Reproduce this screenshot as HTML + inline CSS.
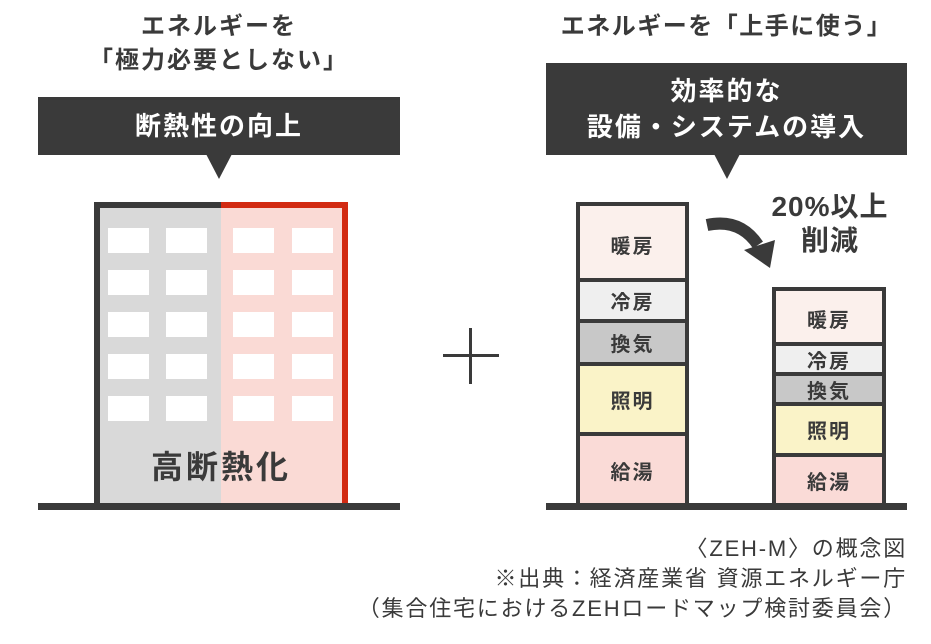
<!DOCTYPE html>
<html><head><meta charset="utf-8"><style>
body{margin:0;width:931px;height:644px;background:#fff;overflow:hidden;position:relative;font-family:"Liberation Sans","Noto Sans CJK JP",sans-serif;color:#3a3a3a}
.a{position:absolute}
.t{font-weight:bold;text-align:center}
.seg{position:absolute;left:0;right:0;display:flex;align-items:center;justify-content:center;font-weight:bold;font-size:20px;letter-spacing:2px;border-top:4px solid #3a3a3a;box-sizing:border-box}
.w{position:absolute;width:41px;height:25px;background:#fff}
</style></head><body>
<div class="a t" style="left:38px;width:362px;top:10px;font-size:24px;letter-spacing:2px;line-height:34px">エネルギーを<br>「極力必要としない」</div>
<div class="a t" style="left:546px;width:361px;top:10px;font-size:24px;letter-spacing:1.5px;line-height:34px">エネルギーを「上手に使う」</div>
<div class="a t" style="left:38px;top:97px;width:362px;height:58px;background:#3a3a3a;color:#fff;font-size:26px;letter-spacing:2px;line-height:58px">断熱性の向上</div>
<div class="a" style="left:206px;top:154px;width:0;height:0;border-left:13px solid transparent;border-right:13px solid transparent;border-top:25px solid #3a3a3a"></div>
<div class="a t" style="left:546px;top:63px;width:361px;height:92px;background:#3a3a3a;color:#fff;font-size:26px;letter-spacing:2px;line-height:36px;padding-top:10px;box-sizing:border-box">効率的な<br>設備・システムの導入</div>
<div class="a" style="left:714px;top:154px;width:0;height:0;border-left:13px solid transparent;border-right:13px solid transparent;border-top:25px solid #3a3a3a"></div>
<!-- building -->
<div class="a" style="left:94px;top:202px;width:127px;height:303px;background:#d9d9d9;border-left:6px solid #3a3a3a;border-top:6px solid #3a3a3a;box-sizing:border-box"></div>
<div class="a" style="left:221px;top:202px;width:127px;height:303px;background:#fadad5;border-right:6px solid #d22a12;border-top:6px solid #d22a12;box-sizing:border-box"></div>
<div class="w" style="left:108px;top:228px"></div><div class="w" style="left:166px;top:228px"></div><div class="w" style="left:233px;top:228px"></div><div class="w" style="left:292px;top:228px"></div>
<div class="w" style="left:108px;top:270px"></div><div class="w" style="left:166px;top:270px"></div><div class="w" style="left:233px;top:270px"></div><div class="w" style="left:292px;top:270px"></div>
<div class="w" style="left:108px;top:312px"></div><div class="w" style="left:166px;top:312px"></div><div class="w" style="left:233px;top:312px"></div><div class="w" style="left:292px;top:312px"></div>
<div class="w" style="left:108px;top:354px"></div><div class="w" style="left:166px;top:354px"></div><div class="w" style="left:233px;top:354px"></div><div class="w" style="left:292px;top:354px"></div>
<div class="w" style="left:108px;top:396px"></div><div class="w" style="left:166px;top:396px"></div><div class="w" style="left:233px;top:396px"></div><div class="w" style="left:292px;top:396px"></div>
<div class="a t" style="left:94px;width:254px;top:446px;font-size:32px;letter-spacing:3px;line-height:42px">高断熱化</div>
<div class="a" style="left:38px;top:503px;width:362px;height:7px;background:#3a3a3a"></div>
<!-- plus -->
<div class="a" style="left:443px;top:354px;width:56px;height:3px;background:#3a3a3a"></div>
<div class="a" style="left:469px;top:328px;width:3px;height:56px;background:#3a3a3a"></div>
<!-- bars -->
<div class="a" style="left:576px;top:202px;width:113px;height:302px;border:4px solid #3a3a3a;border-top:none;box-sizing:border-box">
<div class="seg" style="top:0;height:80px;background:#fbf0ec">暖房</div>
<div class="seg" style="top:76px;height:41px;background:#efefef">冷房</div>
<div class="seg" style="top:117px;height:43px;background:#c8c8c8">換気</div>
<div class="seg" style="top:160px;height:70px;background:#faf3c8">照明</div>
<div class="seg" style="top:230px;height:72px;background:#fadbd7;bottom:0">給湯</div>
</div>
<div class="a" style="left:772px;top:287px;width:114px;height:217px;border:4px solid #3a3a3a;border-top:none;box-sizing:border-box">
<div class="seg" style="top:0;height:59px;background:#fbf0ec">暖房</div>
<div class="seg" style="top:55px;height:30px;background:#efefef">冷房</div>
<div class="seg" style="top:85px;height:30px;background:#c8c8c8">換気</div>
<div class="seg" style="top:115px;height:51px;background:#faf3c8">照明</div>
<div class="seg" style="top:166px;height:51px;background:#fadbd7">給湯</div>
</div>
<div class="a" style="left:546px;top:503px;width:361px;height:7px;background:#3a3a3a"></div>
<!-- arrow -->
<svg class="a" style="left:700px;top:210px" width="80" height="60"><path d="M7 15 Q40 8 58 35" fill="none" stroke="#3a3a3a" stroke-width="12"/><polygon points="44,40 75,30 70,58" fill="#3a3a3a"/></svg>
<div class="a t" style="left:760px;width:140px;top:190px;font-size:28px;letter-spacing:1px;line-height:34px">20%以上<br>削減</div>
<div class="a" style="right:24px;top:534px;font-size:22px;letter-spacing:1.8px;line-height:30px;text-align:right;white-space:nowrap">〈ZEH-M〉の概念図<br>※出典：経済産業省 資源エネルギー庁<br>（集合住宅におけるZEHロードマップ検討委員会）</div>
</body></html>
